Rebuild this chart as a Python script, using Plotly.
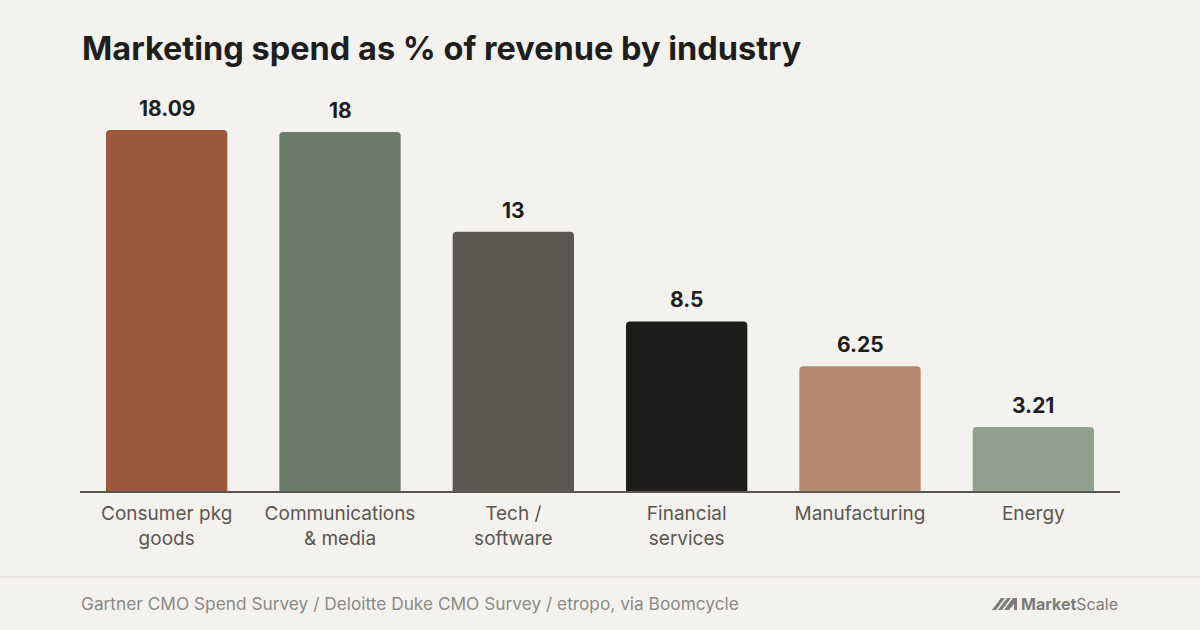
import plotly.graph_objects as go

# data
industries = ["Consumer pkg<br>goods", "Communications<br>& media", "Tech /<br>software",
              "Financial<br>services", "Manufacturing", "Energy"]
spend_pct = [18.09, 18, 13, 8.5, 6.25, 3.21]
bar_colors = ["#9b583b", "#6b7b6a", "#5c5750", "#1e1d1b", "#b88a6d", "#8fa08c"]

W, H = 1200, 630
L, R, T, B = 80, 80, 92, 139
BG = "#f4f2ee"


# pixel -> paper helpers for the decorations outside the plot area
def px(x):
    return (x - L) / (W - L - R)


def py(y):
    return (H - B - y) / (H - T - B)


def path(points):
    return "M " + " L ".join(f"{px(a):.5f},{py(b):.5f}" for a, b in points) + " Z"


fig = go.Figure(go.Bar(
    x=industries, y=spend_pct,
    marker=dict(color=bar_colors, line=dict(width=0)),
    hoverinfo="skip",
))

# value labels above the bars
for name, v in zip(industries, spend_pct):
    fig.add_annotation(x=name, y=v, text=f"<b>{v:g}</b>", showarrow=False,
                       yanchor="bottom", yshift=7,
                       font=dict(family="Inter", size=21, color="#1e1e1c"))

fig.update_layout(
    width=W, height=H,
    margin=dict(l=L, r=R, t=T, b=B),
    paper_bgcolor=BG, plot_bgcolor=BG,
    bargap=0.3, barcornerradius=4,
    showlegend=False,
    font=dict(family="Inter", color="#5b5650"),
)
fig.update_xaxes(showgrid=False, showline=True, linecolor="#5b554f", linewidth=2,
                 ticks="", ticklabelstandoff=4,
                 tickfont=dict(size=19, color="#5b5650"), fixedrange=True)
fig.update_yaxes(range=[0, 20], visible=False, fixedrange=True)

# title
fig.add_annotation(text="<b>Marketing spend as % of revenue by industry</b>",
                   xref="paper", yref="paper", x=0, y=py(48), xanchor="left", yanchor="middle",
                   showarrow=False, font=dict(family="Inter", size=32.5, color="#1e1e1c"))

# footer separator and source
fig.add_shape(type="line", xref="paper", yref="paper", x0=px(0), x1=px(W), y0=py(577), y1=py(577),
              line=dict(color="#e4e1dc", width=2))
fig.add_annotation(text="Gartner CMO Spend Survey / Deloitte Duke CMO Survey / etropo, via Boomcycle",
                   xref="paper", yref="paper", x=px(79), y=py(603), xanchor="left", yanchor="middle",
                   showarrow=False, font=dict(family="Inter", size=17.3, color="#8b8a86"))

# MarketScale logo
fig.add_annotation(text="<b>Market</b>Scale", xref="paper", yref="paper", x=px(1120), y=py(604),
                   xanchor="right", yanchor="middle", showarrow=False,
                   font=dict(family="Inter", size=16, color="#7c7c7a"))
for pts in ([(992, 610), (1001, 598), (1005, 598), (996, 610)],
            [(998, 610), (1007, 598), (1011, 598), (1002, 610)],
            [(1004, 610), (1013, 598), (1017, 598), (1017, 610), (1014, 610), (1014, 604), (1009, 610)]):
    fig.add_shape(type="path", xref="paper", yref="paper", path=path(pts),
                  fillcolor="#7c7c7a", line=dict(width=0))

fig.write_html("out.html", config={"displayModeBar": False},
               post_script="document.body.style.margin='0';")
